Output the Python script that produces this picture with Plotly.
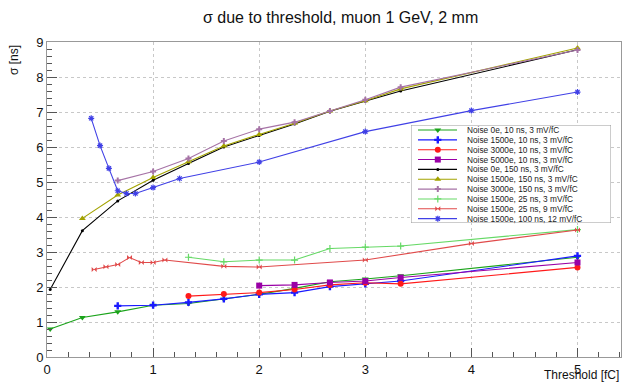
import plotly.graph_objects as go

# ---- data ----
names = [
    "Noise 0e, 10 ns, 3 mV/fC",
    "Noise 1500e, 10 ns, 3 mV/fC",
    "Noise 3000e, 10 ns, 3 mV/fC",
    "Noise 5000e, 10 ns, 3 mV/fC",
    "Noise 0e, 150 ns, 3 mV/fC",
    "Noise 1500e, 150 ns, 3 mV/fC",
    "Noise 3000e, 150 ns, 3 mV/fC",
    "Noise 1500e, 25 ns, 3 mV/fC",
    "Noise 1500e, 25 ns, 9 mV/fC",
    "Noise 1500e, 100 ns, 12 mV/fC",
]

x_0e_10 = [0.03, 1/3, 2/3, 1, 4/3, 5/3, 2, 7/3, 8/3, 3, 10/3, 5]
y_0e_10 = [0.80, 1.13, 1.29, 1.48, 1.53, 1.65, 1.79, 1.96, 2.15, 2.23, 2.32, 2.85]

x_1500e_10 = [2/3, 1, 4/3, 5/3, 2, 7/3, 8/3, 3, 10/3, 5]
y_1500e_10 = [1.46, 1.48, 1.56, 1.66, 1.79, 1.84, 2.01, 2.09, 2.17, 2.89]

x_3000e_10 = [4/3, 5/3, 2, 7/3, 8/3, 3, 10/3, 5]
y_3000e_10 = [1.74, 1.80, 1.84, 1.93, 2.06, 2.12, 2.09, 2.56]

x_5000e_10 = [2, 7/3, 8/3, 3, 10/3, 5]
y_5000e_10 = [2.04, 2.06, 2.13, 2.17, 2.27, 2.70]

x_0e_150 = [0.03, 1/3, 2/3, 1, 4/3, 5/3, 2, 7/3, 8/3, 3, 10/3, 5]
y_0e_150 = [1.93, 3.61, 4.46, 5.05, 5.53, 6.00, 6.33, 6.66, 7.02, 7.31, 7.60, 8.78]

x_1500e_150 = [1/3, 2/3, 1, 4/3, 5/3, 2, 7/3, 8/3, 3, 10/3, 5]
y_1500e_150 = [3.96, 4.63, 5.13, 5.58, 6.03, 6.36, 6.68, 7.03, 7.32, 7.66, 8.83]

x_3000e_150 = [2/3, 1, 4/3, 5/3, 2, 7/3, 8/3, 3, 10/3, 5]
y_3000e_150 = [5.04, 5.30, 5.67, 6.17, 6.51, 6.71, 7.03, 7.35, 7.71, 8.77]

x_1500e_25_3 = [4/3, 5/3, 2, 7/3, 8/3, 3, 10/3, 5]
y_1500e_25_3 = [2.85, 2.72, 2.77, 2.77, 3.10, 3.14, 3.17, 3.64]

x_1500e_25_9 = [4/9, 5/9, 6/9, 7/9, 8/9, 1, 10/9, 15/9, 2, 3, 4, 5]
y_1500e_25_9 = [2.50, 2.58, 2.64, 2.84, 2.70, 2.70, 2.77, 2.59, 2.57, 2.77, 3.24, 3.63]

x_1500e_100_12 = [5/12, 6/12, 7/12, 8/12, 9/12, 10/12, 1, 1.25, 2, 3, 4, 5]
y_1500e_100_12 = [6.82, 6.04, 5.39, 4.75, 4.67, 4.67, 4.84, 5.10, 5.57, 6.44, 7.04, 7.57]

xs = [x_0e_10, x_1500e_10, x_3000e_10, x_5000e_10, x_0e_150,
      x_1500e_150, x_3000e_150, x_1500e_25_3, x_1500e_25_9, x_1500e_100_12]
ys = [y_0e_10, y_1500e_10, y_3000e_10, y_5000e_10, y_0e_150,
      y_1500e_150, y_3000e_150, y_1500e_25_3, y_1500e_25_9, y_1500e_100_12]

x_ticks = [0, 1, 2, 3, 4, 5]
y_ticks = [0, 1, 2, 3, 4, 5, 6, 7, 8, 9]

# ---- styles ----
colors = ["#1aa31a", "#1a1aff", "#ff1a1a", "#9900a6", "#000000",
          "#a3a300", "#a673a6", "#66d966", "#e04a4a", "#4040e6"]
symbols = ["triangle-down", "cross", "circle", "square", "circle",
           "triangle-up", "cross", "cross-thin-open", "bowtie", "asterisk-open"]
msizes = [6, 6, 6, 6, 3, 6, 5, 5, 5, 5]


def marker_for(i):
    sym = symbols[i]
    mk = dict(symbol=sym, size=msizes[i], color=colors[i])
    if sym.endswith("-open"):
        mk["line"] = dict(color=colors[i], width=1.2)
    else:
        mk["line"] = dict(width=0)
    return mk


fig = go.Figure()
for i in range(len(names)):
    fig.add_trace(go.Scatter(x=xs[i], y=ys[i], mode="lines+markers",
                             line=dict(color=colors[i], width=1.1),
                             marker=marker_for(i), showlegend=False, name=names[i],
                             xaxis="x", yaxis="y"))

# ---- manual legend drawn in an inset axis ----
LEG_TOP, LEG_BOT = 0.49, 10.44
fig.add_trace(go.Scatter(x=[0, 1, 1, 0, 0], y=[LEG_TOP, LEG_TOP, LEG_BOT, LEG_BOT, LEG_TOP],
                         mode="lines", fill="toself", fillcolor="white",
                         line=dict(color="#999", width=1), showlegend=False,
                         hoverinfo="skip", xaxis="x2", yaxis="y2"))
for i in range(len(names)):
    fig.add_trace(go.Scatter(x=[0.035, 0.134, 0.23], y=[i + 1] * 3,
                             mode="lines", line=dict(color=colors[i], width=1.1),
                             showlegend=False, hoverinfo="skip",
                             xaxis="x2", yaxis="y2"))
    fig.add_trace(go.Scatter(x=[0.134], y=[i + 1], mode="markers", marker=marker_for(i),
                             showlegend=False, hoverinfo="skip",
                             xaxis="x2", yaxis="y2"))
    fig.add_annotation(x=0.27, y=i + 1, xref="x2", yref="y2", text=names[i],
                       showarrow=False, xanchor="left", yanchor="middle",
                       font=dict(family="Liberation Sans, Arial", size=8.3, color="#222"))

# page body has an 8px default margin: lay out in screen pixels minus that offset
OFF = 8
W, H = 631 - OFF, 383 - OFF
PL, PR, PT, PB = 47 - OFF, 10, 42 - OFF, 26
pw, ph = W - PL - PR, H - PT - PB


def px_to_paper_x(px):
    return (px - OFF - PL) / pw


def px_to_paper_y(py):
    return (H - PB - (py - OFF)) / ph


tickfont = dict(family="Liberation Sans, Arial", size=13, color="#111")
gridstyle = dict(showgrid=True, gridcolor="#c8c8c8", griddash="dot", gridwidth=1)

fig.update_layout(
    width=W, height=H,
    margin=dict(l=PL, r=PR, t=PT, b=PB, autoexpand=False),
    paper_bgcolor="white", plot_bgcolor="white",
    showlegend=False,
    xaxis=dict(range=[0, 5.41], tickvals=x_ticks, ticks="inside", ticklen=9,
               tickcolor="#555", showline=True, linecolor="#999", mirror=True,
               zeroline=False, tickfont=tickfont, automargin=False,
               minor=dict(ticks="inside", ticklen=5, dtick=0.2, tick0=0,
                          tickcolor="#555", showgrid=False),
               **gridstyle),
    yaxis=dict(range=[0, 9], tickvals=y_ticks, ticks="inside", ticklen=10,
               tickcolor="#555", showline=True, linecolor="#999", mirror=True,
               zeroline=False, tickfont=tickfont, automargin=False,
               minor=dict(ticks="inside", ticklen=5, dtick=0.2, tick0=0,
                          tickcolor="#555", showgrid=False),
               **gridstyle),
    xaxis2=dict(domain=[px_to_paper_x(411), px_to_paper_x(611)], range=[0, 1],
                anchor="y2", visible=False, fixedrange=True, showgrid=False),
    yaxis2=dict(domain=[px_to_paper_y(223), px_to_paper_y(125)], range=[LEG_BOT, LEG_TOP],
                anchor="x2", visible=False, fixedrange=True, showgrid=False),
)

fig.add_annotation(x=px_to_paper_x(340), y=px_to_paper_y(17), xref="paper", yref="paper",
                   text="σ due to threshold, muon 1 GeV, 2 mm", showarrow=False,
                   xanchor="center", yanchor="middle",
                   font=dict(family="Liberation Sans, Arial", size=16, color="#111"))
fig.add_annotation(x=px_to_paper_x(14), y=px_to_paper_y(43), xref="paper", yref="paper",
                   text="σ [ns]", showarrow=False, textangle=-90,
                   xanchor="center", yanchor="top",
                   font=dict(family="Liberation Sans, Arial", size=12, color="#111"))
fig.add_annotation(x=px_to_paper_x(621), y=px_to_paper_y(375), xref="paper", yref="paper",
                   text="Threshold [fC]", showarrow=False,
                   xanchor="right", yanchor="middle",
                   font=dict(family="Liberation Sans, Arial", size=12, color="#111"))

fig.write_html("out.html")
